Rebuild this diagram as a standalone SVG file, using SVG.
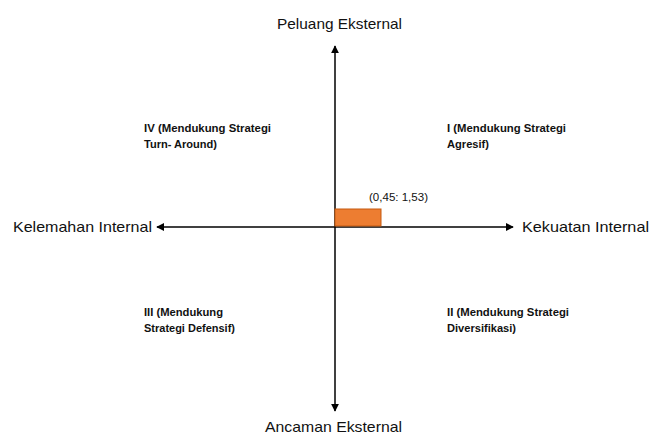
<svg xmlns="http://www.w3.org/2000/svg" width="661" height="436" viewBox="0 0 661 436">
<style>
.ax{font-family:"Liberation Sans",Arial,sans-serif;font-size:15px;fill:#111}
.q{font-family:"Liberation Sans",Arial,sans-serif;font-size:10.5px;font-weight:bold;fill:#111}
.pt{font-family:"Liberation Sans",Arial,sans-serif;font-size:10.5px;fill:#111}
.ln{stroke:#000;stroke-width:1.5;fill:none}
</style>
<defs>
<marker id="ah" viewBox="0 0 10 10" refX="9" refY="5" markerWidth="8" markerHeight="8" markerUnits="userSpaceOnUse" orient="auto">
<path d="M0,0 L10,5 L0,10 z" fill="#000"/>
</marker>
</defs>
<rect width="661" height="436" fill="#fff"/>
<g id="connectors">
<line class="ln" x1="335" y1="227" x2="335" y2="46" marker-end="url(#ah)"/>
<line class="ln" x1="335" y1="227" x2="335" y2="411" marker-end="url(#ah)"/>
<line class="ln" x1="335" y1="227" x2="157" y2="227" marker-end="url(#ah)"/>
<line class="ln" x1="335" y1="227" x2="513" y2="227" marker-end="url(#ah)"/>
</g>
<g id="point">
<rect x="335" y="209" width="46" height="17" fill="#ED7D31" stroke="#C55A11" stroke-width="1"/>
<text class="pt" x="369" y="201" textLength="59" lengthAdjust="spacingAndGlyphs">(0,45: 1,53)</text>
</g>
<g id="top"><text class="ax" x="277" y="29" textLength="125" lengthAdjust="spacingAndGlyphs">Peluang Eksternal</text></g>
<g id="bottom"><text class="ax" x="265" y="432" textLength="137" lengthAdjust="spacingAndGlyphs">Ancaman Eksternal</text></g>
<g id="left"><text class="ax" x="13" y="232" textLength="139" lengthAdjust="spacingAndGlyphs">Kelemahan Internal</text></g>
<g id="right"><text class="ax" x="522" y="232" textLength="127" lengthAdjust="spacingAndGlyphs">Kekuatan Internal</text></g>
<g id="q4">
<text class="q" x="144" y="132" textLength="127" lengthAdjust="spacingAndGlyphs">IV (Mendukung Strategi</text>
<text class="q" x="144" y="148" textLength="73" lengthAdjust="spacingAndGlyphs">Turn- Around)</text>
</g>
<g id="q1">
<text class="q" x="447" y="132" textLength="119" lengthAdjust="spacingAndGlyphs">I (Mendukung Strategi</text>
<text class="q" x="447" y="148" textLength="42" lengthAdjust="spacingAndGlyphs">Agresif)</text>
</g>
<g id="q3">
<text class="q" x="144" y="316" textLength="79" lengthAdjust="spacingAndGlyphs">III (Mendukung</text>
<text class="q" x="144" y="332" textLength="91" lengthAdjust="spacingAndGlyphs">Strategi Defensif)</text>
</g>
<g id="q2">
<text class="q" x="447" y="316" textLength="122" lengthAdjust="spacingAndGlyphs">II (Mendukung Strategi</text>
<text class="q" x="447" y="332" textLength="69" lengthAdjust="spacingAndGlyphs">Diversifikasi)</text>
</g>
</svg>
